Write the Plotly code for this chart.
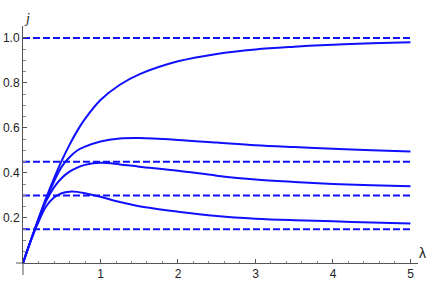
import plotly.graph_objects as go

# lambda sample points
lam = [0, 0.1, 0.2, 0.3, 0.4, 0.5, 0.6, 0.7, 0.8, 1.0, 1.25, 1.5, 2.0, 2.5, 3.0, 3.5, 4.0, 4.5, 5.0]

# curves
j_a = [0, 0.100, 0.197, 0.290, 0.376, 0.455, 0.525, 0.587, 0.640, 0.724, 0.792, 0.838, 0.896, 0.929, 0.949, 0.961, 0.970, 0.976, 0.981]
j_b = [0, 0.100, 0.195, 0.285, 0.362, 0.428, 0.470, 0.500, 0.517, 0.540, 0.553, 0.555, 0.547, 0.535, 0.523, 0.515, 0.508, 0.501, 0.495]
j_c = [0, 0.100, 0.193, 0.276, 0.336, 0.378, 0.406, 0.424, 0.436, 0.445, 0.438, 0.428, 0.410, 0.388, 0.371, 0.360, 0.351, 0.345, 0.341]
j_d = [0, 0.098, 0.183, 0.252, 0.291, 0.310, 0.317, 0.316, 0.310, 0.294, 0.271, 0.252, 0.228, 0.209, 0.197, 0.190, 0.185, 0.180, 0.176]

# horizontal dashed levels
levels = [1.0, 0.45, 0.30, 0.15]
level_x = [0, 5]

xticks = [1, 2, 3, 4, 5]
yticks = [0.2, 0.4, 0.6, 0.8, 1.0]
ytick_text = ["0.2", "0.4", "0.6", "0.8", "1.0"]

blue = "#1010ff"
axis_col = "#555555"
W, H = 436, 286
ml, mr, mt, mb = 23, 18, 26, 23

fig = go.Figure()
for lv in levels:
    fig.add_trace(go.Scatter(x=level_x, y=[lv, lv], mode="lines",
                             line=dict(color=blue, width=2, dash="7px,3px")))
for ys in [j_a, j_b, j_c, j_d]:
    fig.add_trace(go.Scatter(x=lam, y=ys, mode="lines", line_shape="spline",
                             line=dict(color=blue, width=2)))

tickfont = dict(family="Liberation Sans, Arial", size=12, color="#222222")
fig.update_layout(
    width=W, height=H,
    margin=dict(l=ml, r=mr, t=mt, b=mb),
    plot_bgcolor="white", paper_bgcolor="white",
    showlegend=False,
    xaxis=dict(range=[0, 5.097], showgrid=False, zeroline=False, automargin=False,
               showline=True, linecolor=axis_col, linewidth=1,
               tickvals=xticks, ticks="inside", ticklen=4, tickcolor=axis_col,
               tickfont=tickfont,
               minor=dict(tickmode="linear", tick0=0, dtick=0.2, ticks="inside",
                          ticklen=2.5, tickcolor="#888888")),
    yaxis=dict(range=[0, 1.053], showgrid=False, zeroline=False, automargin=False,
               showline=True, linecolor=axis_col, linewidth=1,
               tickvals=yticks, ticktext=ytick_text, ticks="inside", ticklen=4,
               tickcolor=axis_col, tickfont=tickfont,
               minor=dict(tickmode="linear", tick0=0, dtick=0.05, ticks="inside",
                          ticklen=2.5, tickcolor="#888888")),
)

# small axis overhang past the origin, like the original
pw, ph = W - ml - mr, H - mt - mb
fig.add_shape(type="line", xref="paper", yref="paper", x0=-7 / pw, x1=0, y0=0, y1=0,
              line=dict(color=axis_col, width=1))
fig.add_shape(type="line", xref="paper", yref="paper", x0=0, x1=0, y0=-12 / ph, y1=0,
              line=dict(color=axis_col, width=1))

fig.add_annotation(text="<i>j</i>", xref="paper", yref="paper", x=-1 / pw, y=1 + 17 / ph,
                   showarrow=False, font=dict(family="Liberation Serif", size=14, color="#222222"))
fig.add_annotation(text="λ", xref="paper", yref="paper", x=1 + 10 / pw, y=0,
                   showarrow=False, font=dict(family="Liberation Sans", size=14, color="#222222"))

fig.write_html("out.html", config={"displayModeBar": False},
               post_script="document.body.style.margin='0';document.body.style.padding='0';")
